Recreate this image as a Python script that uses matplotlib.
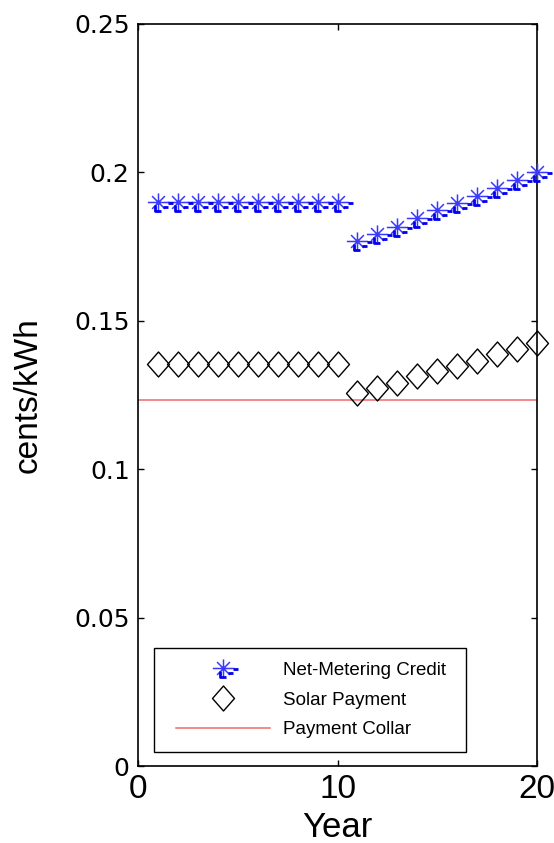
import matplotlib
matplotlib.use('Agg')
import matplotlib.pyplot as plt
from matplotlib.path import Path
from matplotlib.legend_handler import HandlerTuple, HandlerLine2D

# ── Data ───────────────────────────────────────────────────────────────────────
years = list(range(1, 21))
net_metering = [0.190, 0.190, 0.190, 0.190, 0.190, 0.190, 0.190, 0.190, 0.190, 0.190,
                0.1768, 0.1792, 0.1816, 0.1847, 0.1872, 0.1898, 0.1922, 0.1947, 0.1973, 0.2003]
solar_payment = [0.1356, 0.1356, 0.1356, 0.1356, 0.1356, 0.1356, 0.1356, 0.1356, 0.1356, 0.1356,
                 0.1258, 0.1275, 0.1292, 0.1315, 0.1332, 0.1348, 0.1364, 0.1388, 0.1405, 0.1424]
collar_x = [0, 20]
collar_y = [0.1232, 0.1232]

x_ticks = [0, 10, 20]
y_ticks = [0, 0.05, 0.1, 0.15, 0.2, 0.25]
y_tick_labels = ["0", "0.05", "0.1", "0.15", "0.2", "0.25"]
legend_labels = ["Net-Metering Credit", "Solar Payment", "Payment Collar"]

# ── Marker shapes (MATLAB-ish asterisk plus its export artefacts) ─────────────
M, L = Path.MOVETO, Path.LINETO
star_path = Path([(-10, 0), (10, 0), (0, -8.5), (0, 8.5), (-6, -6), (6, 6), (-6, 6), (6, -6), (15, 15)],
                 [M, L, M, L, M, L, M, L, M])
dash_path = Path([(9, -0.8), (14, -0.8), (-3, -3), (-3, -8), (3, -8), (5, -5), (9, -5), (15, 15)],
                 [M, L, M, L, L, M, L, M])
diamond_path = Path([(0, 12.5), (11, 0), (0, -12.5), (-11, 0), (0, 12.5)],
                    [M, L, L, L, Path.CLOSEPOLY])

px = 72 / 100  # points per pixel at dpi 100


class ShortLine(HandlerLine2D):
    """Legend line that is a bit shorter than the handle box (MATLAB look)."""
    def get_xdata(self, legend, xdescent, ydescent, width, height, fontsize):
        xdata, xmark = super().get_xdata(legend, xdescent, ydescent, width, height, fontsize)
        trim = 6
        return [xdata[0] + trim, xdata[-1] - trim], xmark


fig = plt.figure(figsize=(5.54, 8.43), dpi=100)
ax = fig.add_axes([138 / 554, 77 / 843, 399 / 554, 742 / 843])

star, = ax.plot(years, net_metering, linestyle='none', marker=star_path,
                markersize=32 * px, markeredgewidth=1.1, markeredgecolor='#3a3aff',
                markerfacecolor='none', clip_on=False, zorder=3)
dash, = ax.plot(years, net_metering, linestyle='none', marker=dash_path,
                markersize=32 * px, markeredgewidth=2.0, markeredgecolor='#0000ee',
                markerfacecolor='none', clip_on=False, zorder=3)
diam, = ax.plot(years, solar_payment, linestyle='none', marker=diamond_path,
                markersize=25 * px, markeredgewidth=1.0, markeredgecolor='black',
                markerfacecolor='none', clip_on=False, zorder=3)
collar, = ax.plot(collar_x, collar_y, color='#f06a6a', linewidth=1.1, zorder=2)

ax.set_xlim(0, 20)
ax.set_ylim(0, 0.25)
ax.set_xticks(x_ticks)
ax.set_yticks(y_ticks)
ax.set_yticklabels(y_tick_labels)

narrow = ['Liberation Sans Narrow', 'Liberation Sans', 'DejaVu Sans']
regular = ['Liberation Sans', 'DejaVu Sans']
for lab in ax.get_xticklabels():
    lab.set_fontfamily(narrow)
    lab.set_fontsize(24)
for lab in ax.get_yticklabels():
    lab.set_fontfamily('DejaVu Sans')
    lab.set_fontsize(18)

ax.tick_params(direction='in', length=4, width=1, top=True, right=True, pad=6)
for s in ax.spines.values():
    s.set_linewidth(1.2)
    s.set_color('black')

ax.set_xlabel("Year", fontfamily=narrow, fontsize=25, labelpad=4)
ax.set_ylabel("cents/kWh", fontfamily=regular, fontsize=24)
ax.yaxis.set_label_coords(-0.237, 0.5)

leg = ax.legend([(star, dash), diam, collar], legend_labels,
                handler_map={tuple: HandlerTuple(ndivide=1, pad=0), collar: ShortLine()},
                loc='lower left', bbox_to_anchor=(0.04, 0.019, 0.782, 0.139),
                mode='expand', borderaxespad=0, numpoints=1,
                handlelength=5.92, handletextpad=0.24, labelspacing=0.68,
                borderpad=0.72, fancybox=False, framealpha=1,
                edgecolor='black', prop={'family': regular, 'size': 13.5})
leg.get_frame().set_linewidth(1.0)

fig.savefig("out.png", dpi=100)
